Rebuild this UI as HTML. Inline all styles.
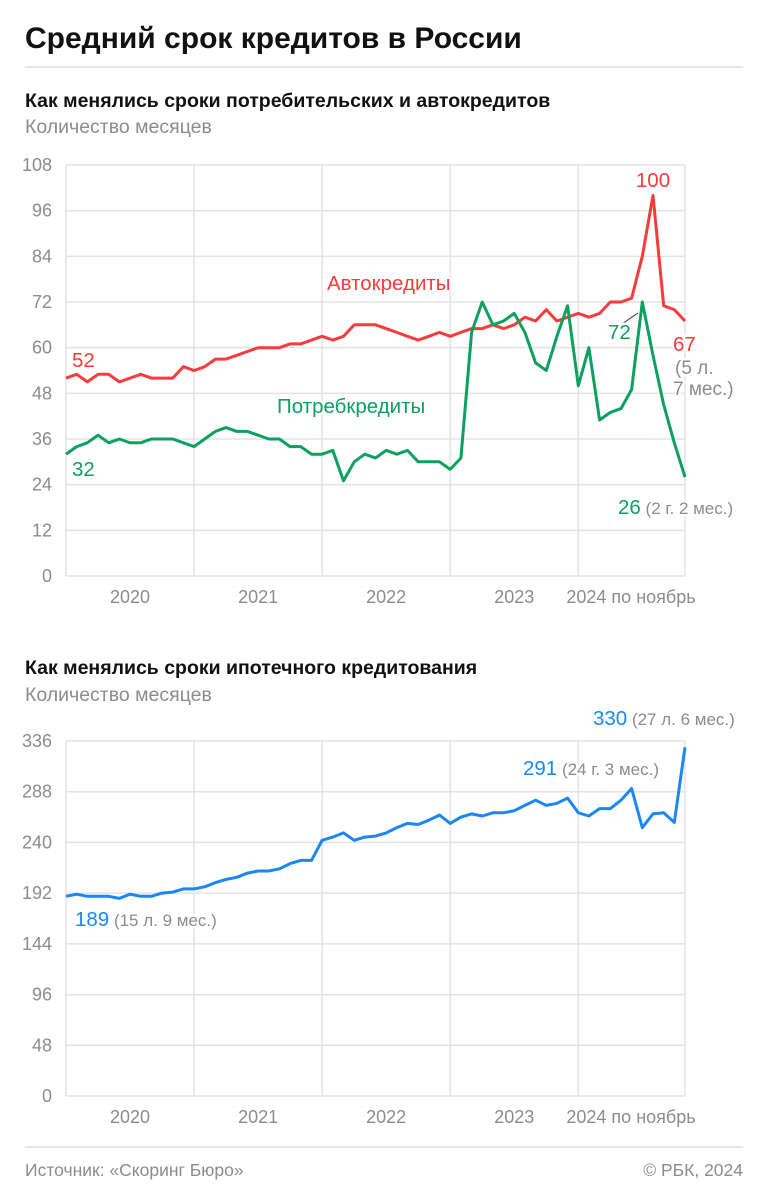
<!DOCTYPE html>
<html><head><meta charset="utf-8"><style>
body{margin:0;background:#fff}
svg{display:block;font-family:"Liberation Sans",sans-serif}
.g{stroke:#e3e3e3;stroke-width:1.5}
.t{fill:#8c8c8c;font-size:18px}
.ann{font-size:20.5px;paint-order:stroke;stroke:#fff;stroke-width:5px;stroke-linejoin:round}
</style></head><body>
<svg id="s" width="768" height="1200" viewBox="0 0 768 1200">
<text x="25" y="48" font-size="30" font-weight="bold" fill="#111">Средний срок кредитов в России</text>
<line x1="25" y1="67" x2="743" y2="67" stroke="#ddd" stroke-width="1.5"/>
<text x="25" y="107" font-size="19.5" font-weight="bold" fill="#111">Как менялись сроки потребительских и автокредитов</text>
<text x="25" y="133" font-size="19.5" fill="#8c8c8c">Количество месяцев</text>
<g id="c1"></g>
<text x="25" y="674" font-size="19.5" font-weight="bold" fill="#111">Как менялись сроки ипотечного кредитования</text>
<text x="25" y="701" font-size="19.5" fill="#8c8c8c">Количество месяцев</text>
<g id="c2"></g>
<line x1="25" y1="1147" x2="743" y2="1147" stroke="#ddd" stroke-width="1.5"/>
<text x="25" y="1176" font-size="17.5" fill="#8c8c8c">Источник: «Скоринг Бюро»</text>
<text x="743" y="1176" font-size="17.5" fill="#8c8c8c" text-anchor="end">© РБК, 2024</text>
</svg>
<script>
const yearLabels = ["2020","2021","2022","2023","2024 по ноябрь"];
const autoLoans = [52,53,51,53,53,51,52,53,52,52,52,55,54,55,57,57,58,59,60,60,60,61,61,62,63,62,63,66,66,66,65,64,63,62,63,64,63,64,65,65,66,65,66,68,67,70,67,68,69,68,69,72,72,73,84,100,71,70,67];
const consumerLoans = [32,34,35,37,35,36,35,35,36,36,36,35,34,36,38,39,38,38,37,36,36,34,34,32,32,33,25,30,32,31,33,32,33,30,30,30,28,31,64,72,66,67,69,64,56,54,63,71,50,60,41,43,44,49,72,58,45,35,26];
const mortgage = [189,191,189,189,189,187,191,189,189,192,193,196,196,198,202,205,207,211,213,213,215,220,223,223,242,245,249,242,245,246,249,254,258,257,261,266,258,264,267,265,268,268,270,275,280,275,277,282,268,265,272,272,280,291,254,267,268,259,330];
const ticks1 = [0,12,24,36,48,60,72,84,96,108];
const ticks2 = [0,48,96,144,192,240,288,336];

const NS="http://www.w3.org/2000/svg";
const X0=66, X1=685;
function xs(i){return X0+(X1-X0)*i/58;}
function mk(parent,tag,attrs,txt){const e=document.createElementNS(NS,tag);for(const k in attrs)e.setAttribute(k,attrs[k]);if(txt!==undefined)e.textContent=txt;parent.appendChild(e);return e;}

function axes(g,ys,ticks,yBottom){
  ticks.forEach(t=>{
    const y=ys(t);
    const l=mk(g,'line',{x1:X0,x2:X1,y1:y,y2:y,class:'g'});
    
    
    const tx=mk(g,'text',{x:52,y:y+6,class:'t','text-anchor':'end'},String(t));
    
    
  });
  const top=ys(ticks[ticks.length-1]);
  [0,12,24,36,48].forEach(i=>{
    const l=mk(g,'line',{x1:xs(i),x2:xs(i),y1:top,y2:yBottom,class:'g'});
    
    
  });
  const r=mk(g,'line',{x1:X1,x2:X1,y1:top,y2:yBottom,class:'g'});
  
  
  yearLabels.forEach((lab,k)=>{
    const cx=k<4?xs(k*12+6):631;
    const tx=mk(g,'text',{x:cx,y:yBottom+27,class:'t','text-anchor':'middle'},lab);
    
    
  });
}
function line(g,data,ys,color,name){
  const d=data.map((v,i)=>(i?'L':'M')+xs(i).toFixed(1)+' '+ys(v).toFixed(1)).join(' ');
  const p=mk(g,'path',{d:d,fill:'none',stroke:color,'stroke-width':3,'stroke-linejoin':'round'});
  
  
}
function ann(g,x,y,parts,name,anchor,size){
  const t=mk(g,'text',{x:x,y:y,class:'ann','text-anchor':anchor||'start'});
  if(size)t.style.fontSize=size+'px';
  
  
  parts.forEach(p=>mk(t,'tspan',{fill:p[1]},p[0]));
}
const RED='#f93b3b', GREEN='#0ea060', BLUE='#1a87f5', GRAY='#8c8c8c';

// chart 1
const g1=document.getElementById('c1');
const y1=v=>576-v*(576-165)/108;
axes(g1,y1,ticks1,576);
line(g1,autoLoans,y1,RED,'auto-loans-line');
line(g1,consumerLoans,y1,GREEN,'consumer-loans-line');
ann(g1,72,367,[[String(autoLoans[0]),RED]],'auto-start-label');
ann(g1,72,476,[[String(consumerLoans[0]),GREEN]],'consumer-start-label');
ann(g1,327,290,[['Автокредиты',RED]],'auto-series-label');
ann(g1,277,413,[['Потребкредиты',GREEN]],'consumer-series-label');
ann(g1,653,187,[[String(Math.max(...autoLoans)),RED]],'auto-peak-label','middle');
const ll=mk(g1,'line',{x1:622,y1:324,x2:638,y2:313,stroke:'#333','stroke-width':1});


ann(g1,608,339,[['72',GREEN]],'consumer-peak-label');
ann(g1,673,351,[[String(autoLoans[58]),RED]],'auto-end-label');
ann(g1,675,374,[['(5 л.',GRAY]],'auto-end-duration',null,19);
ann(g1,673,395,[['7 мес.)',GRAY]],'auto-end-duration-2',null,19);
const t26=mk(g1,'text',{x:618,y:514,class:'ann'});


mk(t26,'tspan',{fill:GREEN},String(consumerLoans[58]));
mk(t26,'tspan',{fill:GRAY,'font-size':'17px'},' (2 г. 2 мес.)');

// chart 2
const g2=document.getElementById('c2');
const y2=v=>1096-v*(1096-741)/336;
axes(g2,y2,ticks2,1096);
line(g2,mortgage,y2,BLUE,'mortgage-line');
function ann2(x,y,val,extra,name){
  const t=mk(g2,'text',{x:x,y:y,class:'ann'});
  
  
  mk(t,'tspan',{fill:BLUE},String(val));
  mk(t,'tspan',{fill:GRAY,'font-size':'17px'},' '+extra);
}
ann2(593,725,mortgage[58],'(27 л. 6 мес.)','mortgage-end-label');
ann2(523,775,mortgage[53],'(24 г. 3 мес.)','mortgage-peak-label');
ann2(75,926,mortgage[0],'(15 л. 9 мес.)','mortgage-start-label');
</script>
</body></html>
